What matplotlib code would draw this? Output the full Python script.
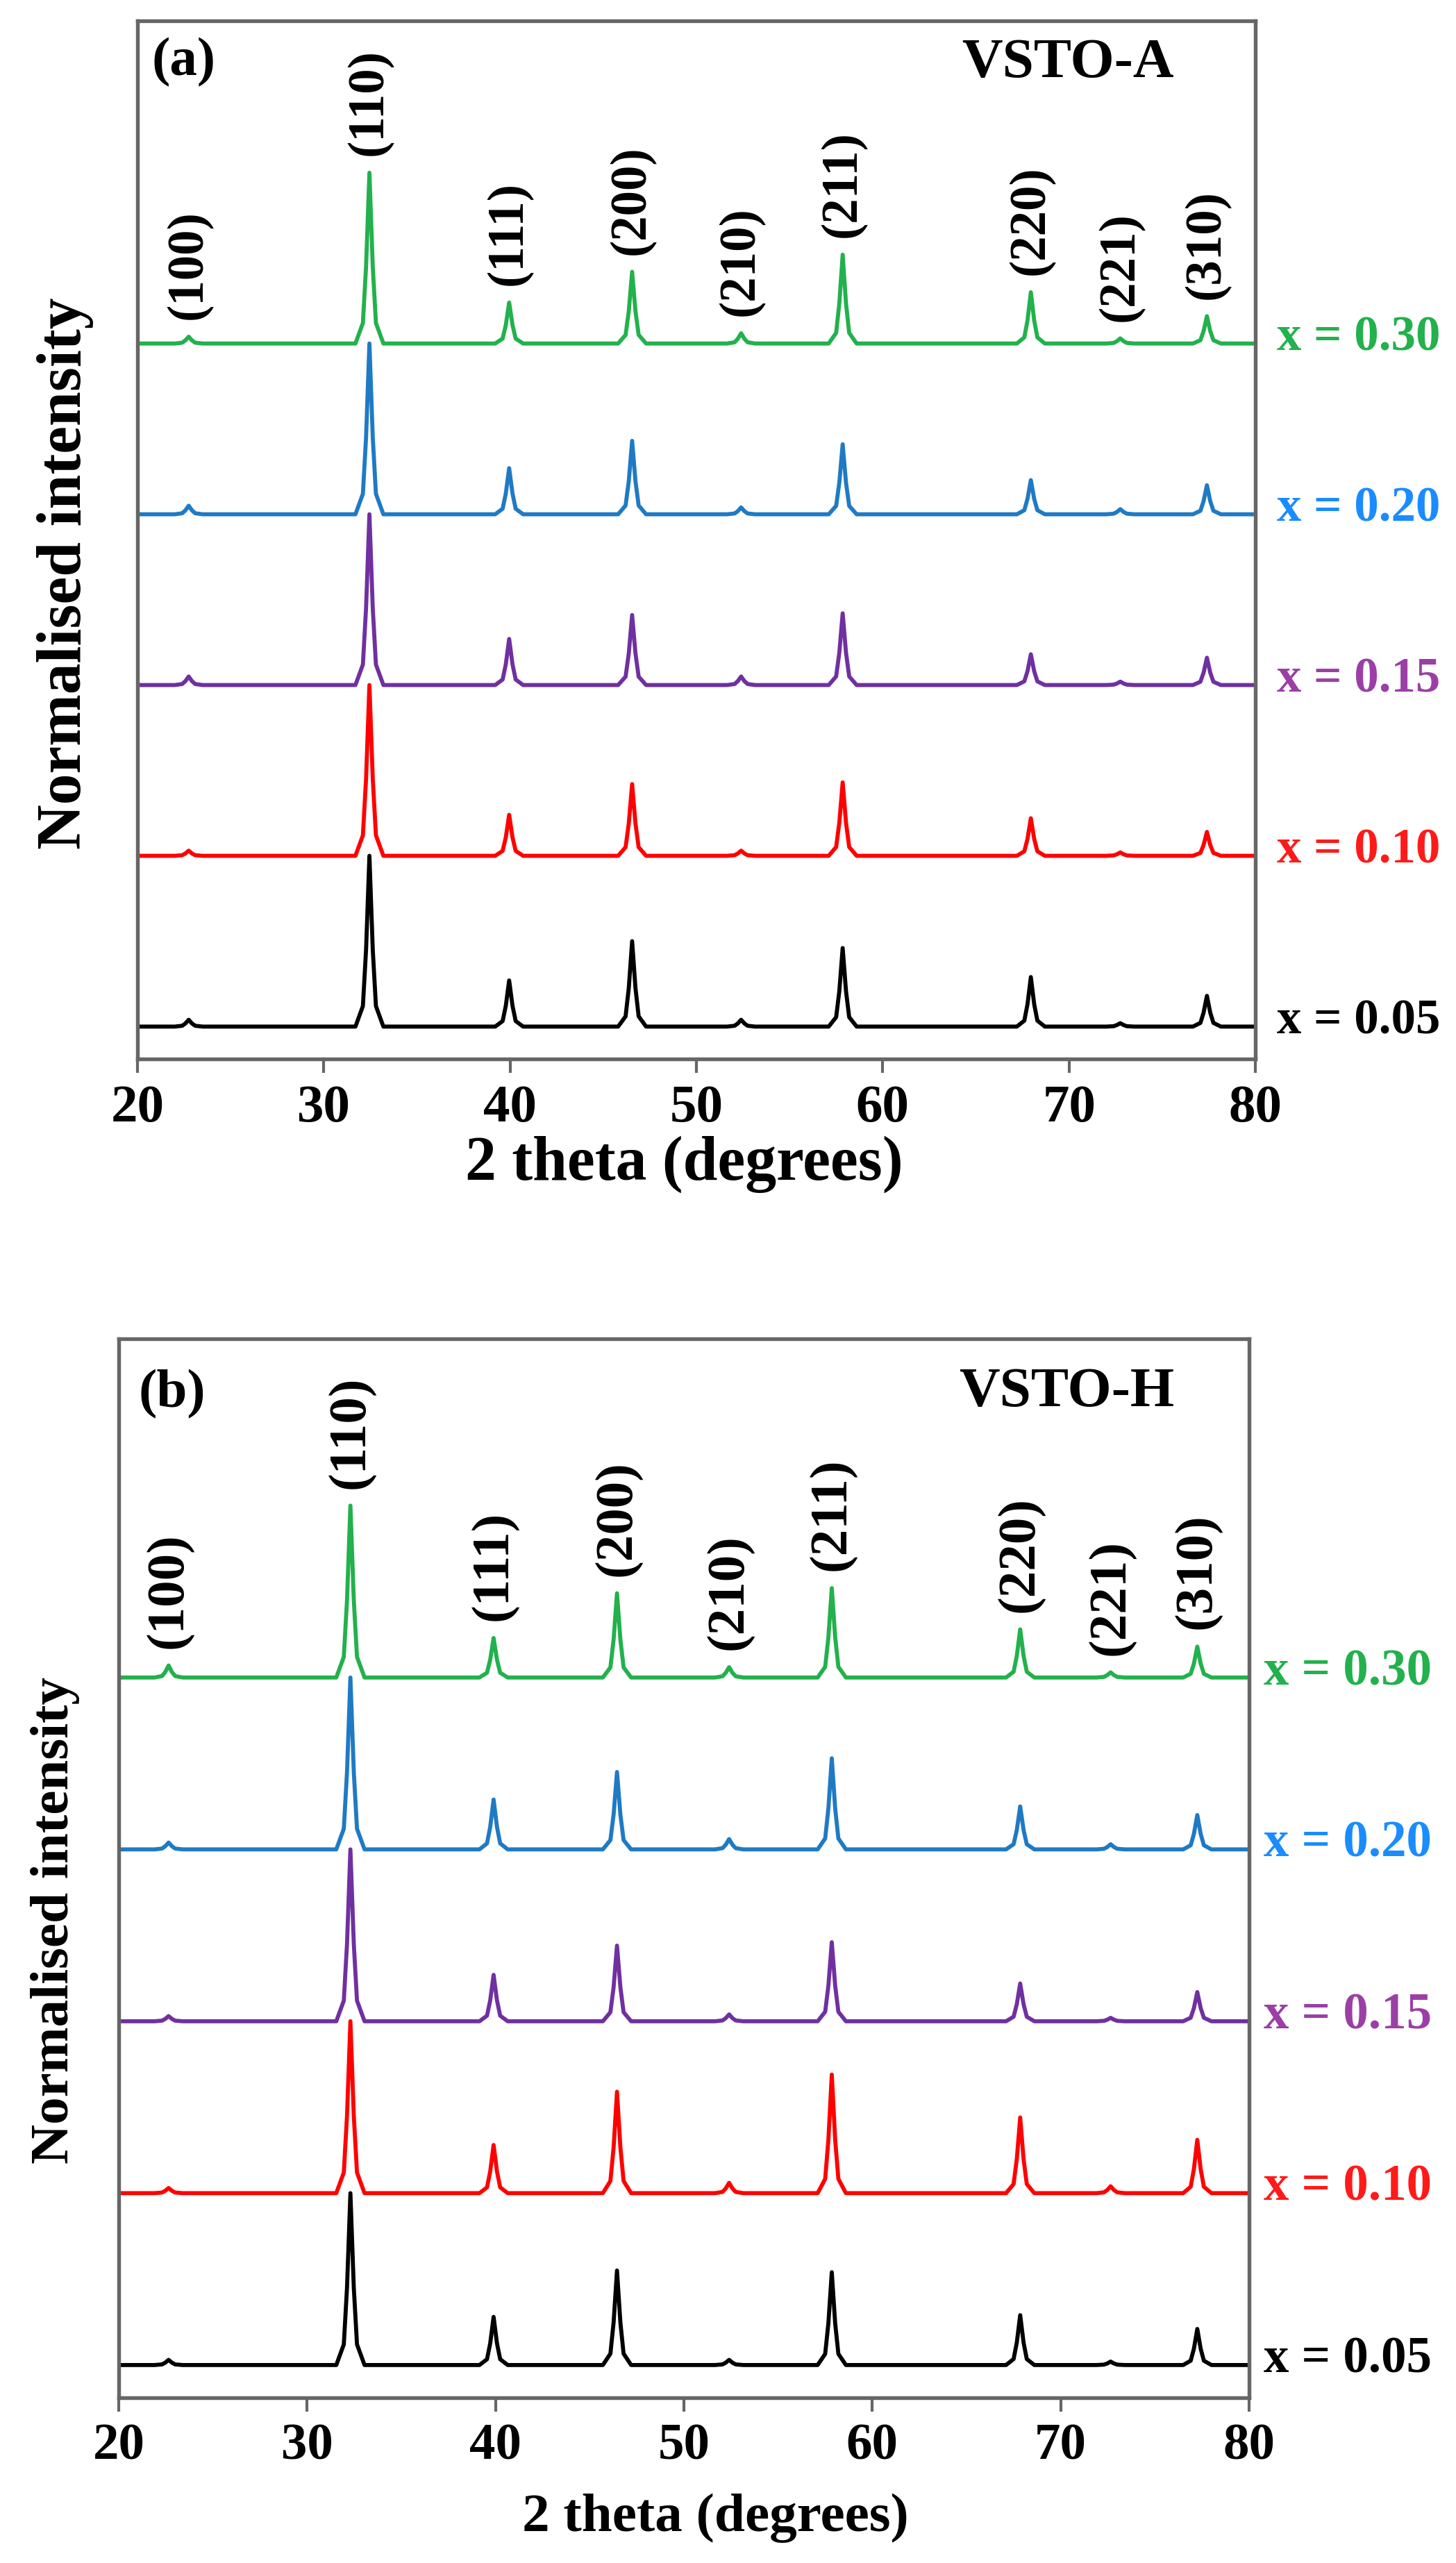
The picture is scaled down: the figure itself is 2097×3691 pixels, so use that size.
import numpy as np
import matplotlib
matplotlib.use("Agg")
import matplotlib.pyplot as plt

plt.rcParams['font.family'] = ['Liberation Serif', 'DejaVu Serif']
plt.rcParams['font.weight'] = 'bold'

# reflections and peak positions (2 theta, degrees)
hkl = ["(100)", "(110)", "(111)", "(200)", "(210)", "(211)", "(220)", "(221)", "(310)"]
pos_a = [22.75, 32.45, 39.95, 46.55, 52.4, 57.85, 67.95, 72.75, 77.4]
pos_b = [22.65, 32.3, 39.9, 46.45, 52.4, 57.85, 67.85, 72.65, 77.25]

series = ["x = 0.05", "x = 0.10", "x = 0.15", "x = 0.20", "x = 0.30"]
line_colors = ["#000000", "#ff0000", "#7030a0", "#1f7ac4", "#22b14c"]
text_colors = ["#000000", "#ff1a1a", "#9b3fa6", "#1a8cff", "#22b14c"]

# normalised peak heights, order as hkl, one row per series (x = 0.05 ... 0.30)
heights_a = [
    [0.04, 1.0, 0.27, 0.50, 0.04, 0.46, 0.29, 0.02, 0.18],
    [0.03, 1.0, 0.24, 0.42, 0.03, 0.43, 0.22, 0.02, 0.14],
    [0.05, 1.0, 0.27, 0.41, 0.05, 0.42, 0.18, 0.02, 0.16],
    [0.05, 1.0, 0.27, 0.43, 0.04, 0.41, 0.20, 0.03, 0.17],
    [0.04, 1.0, 0.24, 0.42, 0.06, 0.52, 0.30, 0.03, 0.16],
]
heights_b = [
    [0.03, 1.0, 0.28, 0.55, 0.03, 0.54, 0.29, 0.02, 0.21],
    [0.03, 1.0, 0.28, 0.59, 0.06, 0.69, 0.44, 0.04, 0.31],
    [0.03, 1.0, 0.27, 0.44, 0.04, 0.46, 0.22, 0.02, 0.17],
    [0.04, 1.0, 0.29, 0.45, 0.06, 0.53, 0.25, 0.03, 0.20],
    [0.07, 1.0, 0.23, 0.49, 0.06, 0.52, 0.28, 0.03, 0.18],
]

# shape of one reflection: offsets in degrees and fraction of peak height
shape_dx = [-0.75, -0.35, -0.18, 0.0, 0.18, 0.35, 0.75]
shape_f = [0.0, 0.12, 0.45, 1.0, 0.45, 0.12, 0.0]


def pattern(pos, h):
    xs = [20.0]
    ys = [0.0]
    for p, hh in zip(pos, h):
        for dx, f in zip(shape_dx, shape_f):
            xs.append(p + dx)
            ys.append(hh * f)
    xs.append(80.0)
    ys.append(0.0)
    return np.array(xs), np.array(ys)


fig = plt.figure(figsize=(2097 / 300, 3691 / 300), dpi=300)

panels = [
    dict(rect=[0.0944, 0.5868, 0.7678, 0.4051], pos=pos_a, heights=heights_a,
         ylim=(-0.19, 5.89), tag="(a)", tagxy=(0.0416, 0.960), name="VSTO-A",
         namexy=(0.927, 0.9585), fs_tick=18.5, fs_lab=21.5, fs_hkl=17.5, fs_ser=17,
         ylab=(-0.0646, 0.4676), xlab=(0.489, -0.101), serx=1.019),
    dict(rect=[0.0815, 0.0645, 0.7764, 0.4131], pos=pos_b, heights=heights_b,
         ylim=(-0.19, 5.97), tag="(b)", tagxy=(0.0473, 0.948), name="VSTO-H",
         namexy=(0.934, 0.9495), fs_tick=18, fs_lab=19, fs_hkl=18.5, fs_ser=17.5,
         ylab=(-0.0559, 0.451), xlab=(0.528, -0.114), serx=1.013),
]

for pn in panels:
    ax = fig.add_axes(pn["rect"])
    for i in range(len(series)):
        xs, ys = pattern(pn["pos"], pn["heights"][i])
        ax.plot(xs, ys + i, color=line_colors[i], lw=1.4)
        ax.text(pn["serx"], i + 0.03, series[i], transform=ax.get_yaxis_transform(),
                color=text_colors[i], fontsize=pn["fs_ser"], fontweight='bold',
                ha='left', va='center', clip_on=False)

    top = pn["heights"][-1]
    for j, lab in enumerate(hkl):
        ax.text(pn["pos"][j], len(series) - 1 + top[j] + 0.1, lab, rotation=90,
                ha='center', va='bottom', fontsize=pn["fs_hkl"], fontweight='bold')

    ax.text(pn["tagxy"][0], pn["tagxy"][1], pn["tag"], transform=ax.transAxes,
            ha='center', va='center', fontsize=19, fontweight='bold')
    ax.text(pn["namexy"][0], pn["namexy"][1], pn["name"], transform=ax.transAxes,
            ha='right', va='center', fontsize=19.5, fontweight='bold')

    ax.set_xlim(20, 80)
    ax.set_ylim(*pn["ylim"])
    ax.set_xticks([20, 30, 40, 50, 60, 70, 80])
    ax.set_yticks([])
    ax.tick_params(axis='x', direction='out', length=4.8, width=1.0, color='#666666',
                   labelsize=pn["fs_tick"], pad=4)
    for lbl in ax.get_xticklabels():
        lbl.set_fontweight('bold')
    for sp in ax.spines.values():
        sp.set_color('#666666')
        sp.set_linewidth(1.3)

    ax.set_xlabel("2 theta (degrees)", fontsize=pn["fs_lab"], fontweight='bold', va='center')
    ax.xaxis.set_label_coords(*pn["xlab"])
    ax.set_ylabel("Normalised intensity", fontsize=pn["fs_lab"], fontweight='bold', va='center')
    ax.yaxis.set_label_coords(*pn["ylab"])

fig.savefig("out.png", dpi=300)
